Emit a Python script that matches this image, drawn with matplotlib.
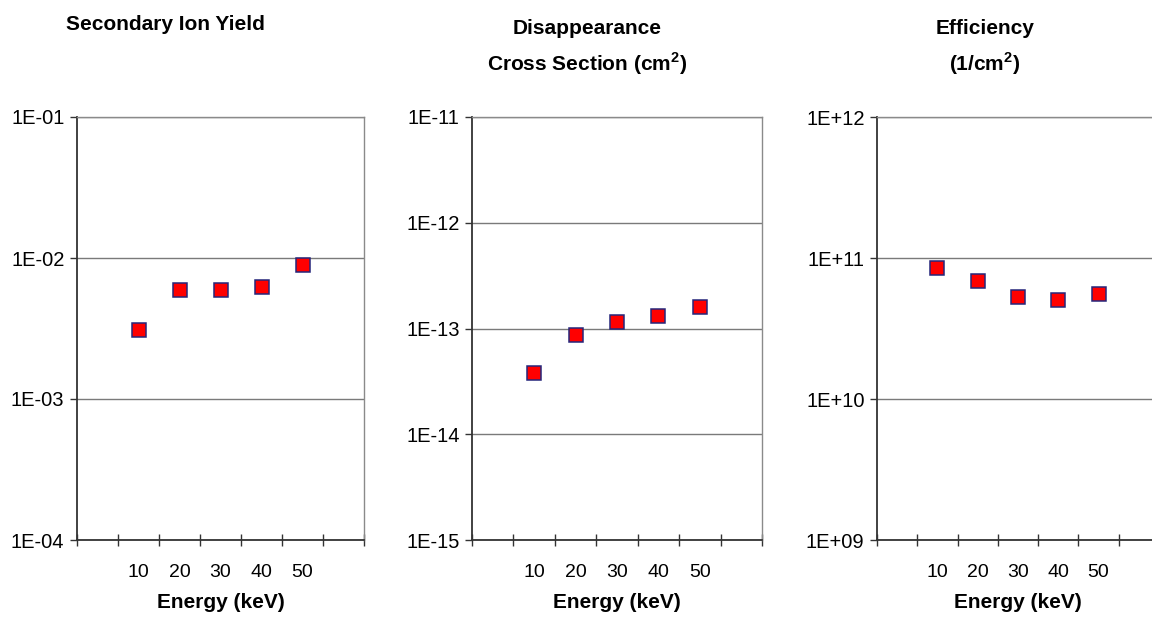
import matplotlib.pyplot as plt
import numpy as np
from matplotlib.ticker import FixedLocator, FuncFormatter, NullFormatter

plt.rcParams["font.family"] = ["Liberation Sans", "DejaVu Sans"]

energy = [10, 20, 30, 40, 50]

ion_yield = [3.07e-3, 5.9e-3, 5.9e-3, 6.2e-3, 8.9e-3]
cross_section = [3.8e-14, 8.7e-14, 1.15e-13, 1.3e-13, 1.6e-13]
efficiency = [8.45e10, 6.9e10, 5.3e10, 5.0e10, 5.6e10]

panels = [
    ("Secondary Ion Yield", ion_yield, (-4, -1)),
    ("Disappearance\nCross Section (cm$^\\mathregular{2}$)", cross_section, (-15, -11)),
    ("Efficiency\n(1/cm$^\\mathregular{2}$)", efficiency, (9, 12)),
]

# axes boxes in pixels: left, right (figure is 1152 x 621)
boxes = [(77, 364), (472, 762), (877, 1159)]
title_pos = [(165, 25), (587, 48), (985, 48)]
top_px, bottom_px = 117, 540
W, H = 1152, 621

fig = plt.figure(figsize=(11.52, 6.21), dpi=100)

for (title, values, (lo, hi)), (l, r), (tx, ty) in zip(panels, boxes, title_pos):
    ax = fig.add_axes([l / W, 1 - bottom_px / H, (r - l) / W, (bottom_px - top_px) / H])
    ax.set_yscale("log")
    ax.set_ylim(10.0**lo, 10.0**hi)
    n_slots = len(energy) + 2
    ax.set_xlim(0, n_slots)

    xpos = np.arange(len(energy)) + 1.5
    ax.plot(xpos, values, linestyle="none", marker="s", markersize=10.5,
            markerfacecolor="#ff0000", markeredgecolor="#26267a", markeredgewidth=1.1,
            clip_on=False, zorder=5)

    # horizontal gridlines at decades
    decades = [10.0**e for e in range(lo, hi + 1)]
    ax.yaxis.set_major_locator(FixedLocator(decades))
    ax.yaxis.set_minor_locator(FixedLocator([]))
    ax.yaxis.set_major_formatter(FuncFormatter(lambda v, p: f"1E{int(round(np.log10(v))):+03d}"))
    ax.grid(axis="y", color="#7a7a7a", linewidth=1.0)
    ax.tick_params(axis="y", direction="out", length=5, width=1.0, color="#333333",
                   labelsize=14.5, pad=4)

    # category axis: boundary ticks, labels centred in slots
    ax.xaxis.set_major_locator(FixedLocator(np.arange(n_slots + 1)))
    ax.xaxis.set_major_formatter(NullFormatter())
    ax.xaxis.set_minor_locator(FixedLocator(xpos))
    ax.xaxis.set_minor_formatter(FuncFormatter(lambda v, p: str(energy[int(v - 1.5)])))
    ax.tick_params(axis="x", which="major", direction="inout", length=9, width=1.0, color="#333333")
    ax.tick_params(axis="x", which="minor", length=0, labelsize=14, pad=17)

    for side in ["left", "bottom"]:
        ax.spines[side].set_color("#333333")
        ax.spines[side].set_linewidth(1.3)
    for side in ["top", "right"]:
        ax.spines[side].set_color("#8a8a8a")
        ax.spines[side].set_linewidth(1.0)

    ax.set_xlabel("Energy (keV)", fontsize=15, fontweight="bold", labelpad=9)
    fig.text(tx / W, 1 - ty / H, title, ha="center", va="center", fontsize=15,
             fontweight="bold", linespacing=1.6)

fig.savefig("out.png", dpi=100)
